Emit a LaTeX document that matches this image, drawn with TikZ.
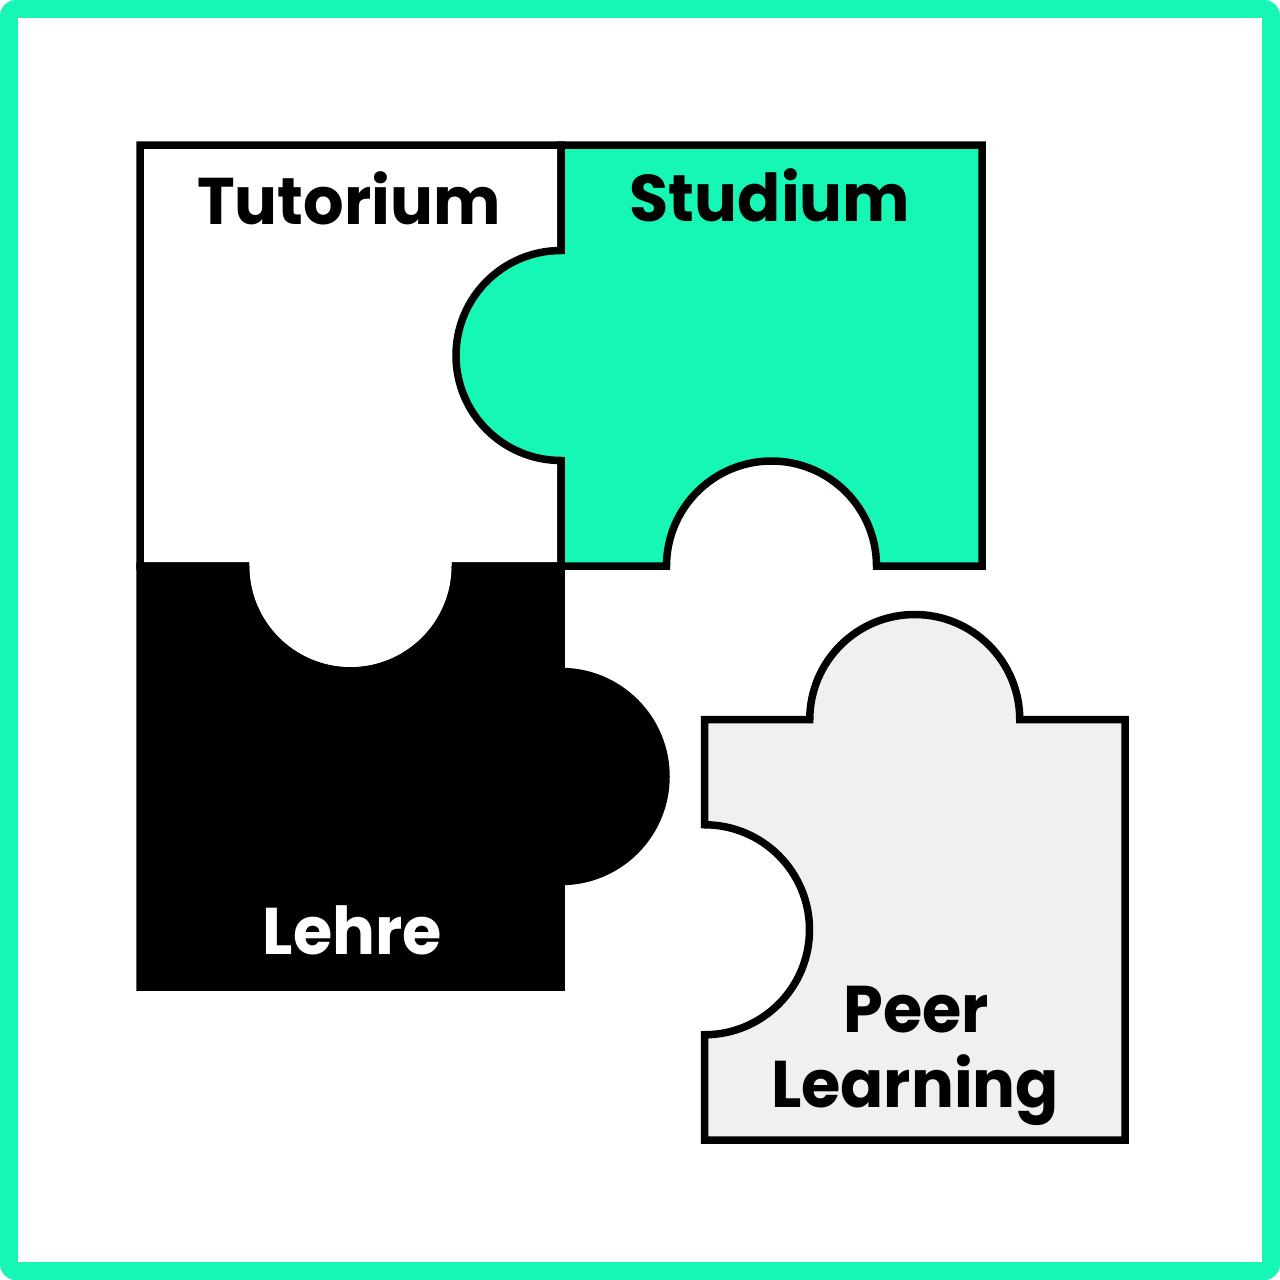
\documentclass[tikz,border=0pt]{standalone}
\usepackage{fontspec}
\setmainfont{Poppins}
\definecolor{mint}{RGB}{22,247,182}
\definecolor{paper}{RGB}{240,240,240}
\newcommand{\squeeze}[1]{\scalebox{0.965}[1]{#1}}
\begin{document}
\begin{tikzpicture}[x=1pt,y=-1pt,
  piece/.style={draw=black,line width=7.5pt,line join=miter},
  lbl/.style={anchor=base,inner sep=0pt,font=\fontsize{66}{80}\selectfont\bfseries}]
\useasboundingbox (0,0) rectangle (1280,1280);
\fill[mint,rounded corners=16pt] (0,0) rectangle (1280,1280);
\fill[white] (18,18) rectangle (1262,1262);
% Tutorium
\path[piece,fill=white] (140,145) -- (561,145) -- (561,566) -- (455.5,566)
  arc[start angle=0,end angle=-180,radius=105pt] -- (140,566) -- cycle;
% Lehre
\path[piece,fill=black] (140,566) -- (245.5,566)
  arc[start angle=180,end angle=360,radius=105pt] -- (561,566) -- (561,671.5)
  arc[start angle=90,end angle=-90,radius=105pt] -- (561,987) -- (140,987) -- cycle;
% Studium
\path[piece,fill=mint] (561,145) -- (982,145) -- (982,566) -- (876.5,566)
  arc[start angle=0,end angle=180,radius=105pt] -- (561,566) -- (561,460.5)
  arc[start angle=-90,end angle=-270,radius=105pt] -- cycle;
% Peer Learning
\path[piece,fill=paper] (704.5,719.5) -- (809.75,719.5)
  arc[start angle=180,end angle=0,radius=105pt] -- (1125,719.5) -- (1125,1140)
  -- (704.5,1140) -- (704.5,1034.75)
  arc[start angle=-90,end angle=90,radius=105pt] -- cycle;
\node[lbl] (tut) at (349,224) {\squeeze{Tutorium}};
\node[lbl] (stu) at (770,221) {\squeeze{Studium}};
\node[lbl,text=white] (leh) at (352.5,954) {\squeeze{Lehre}};
\node[lbl] (peer) at (916,1032) {\squeeze{Peer}};
\node[lbl] (learn) at (915,1107) {\squeeze{Learning}};
\end{tikzpicture}
\end{document}
